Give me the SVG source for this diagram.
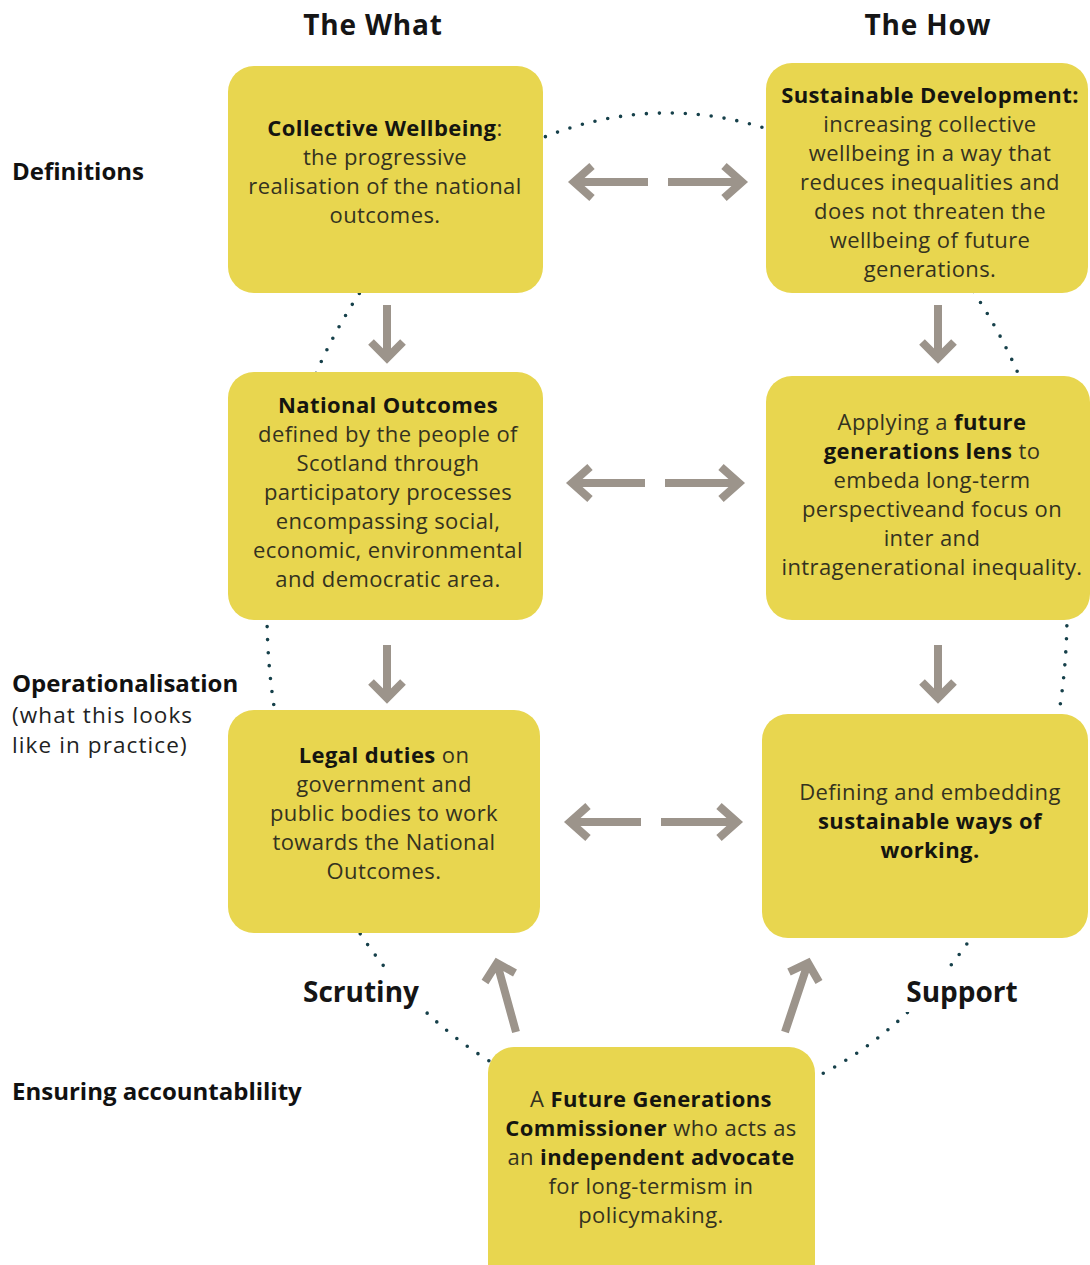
<svg xmlns="http://www.w3.org/2000/svg" width="1090" height="1265" viewBox="0 0 1090 1265">
<style>
.box{fill:#E8D64F}
.arr{fill:none;stroke:#9C948B;stroke-width:8;stroke-linejoin:miter;stroke-linecap:butt}
.dots{fill:none;stroke:#16404A;stroke-width:3.6;stroke-linecap:round;stroke-dasharray:0 13}
.t{font-family:"Open Sans","Liberation Sans",sans-serif;font-size:22px;fill:#34321f;text-anchor:middle;letter-spacing:0.4px}
.b{font-weight:700;fill:#151510}
.title{font-family:"Open Sans","Liberation Sans",sans-serif;font-size:28px;font-weight:700;fill:#151515;text-anchor:middle;letter-spacing:0.8px}
.lab{font-family:"Open Sans","Liberation Sans",sans-serif;font-size:22.5px;fill:#222;letter-spacing:1.1px}
.labb{font-size:24px;font-weight:700;fill:#111;letter-spacing:0px}
.side{font-family:"Open Sans","Liberation Sans",sans-serif;font-size:28px;font-weight:700;fill:#151515;text-anchor:middle}
</style>
<rect width="1090" height="1265" fill="#fff"/>
<g id="connectors">
<ellipse class="dots" cx="667" cy="613" rx="400" ry="500"/>
<path class="arr" d="M648 182H574M592 166L574 182L592 198"/>
<path class="arr" d="M668 182H742M724 166L742 182L724 198"/>
<path class="arr" d="M645 483H572M590 467L572 483L590 499"/>
<path class="arr" d="M665 483H739M721 467L739 483L721 499"/>
<path class="arr" d="M641 822H570M588 806L570 822L588 838"/>
<path class="arr" d="M661 822H737M719 806L737 822L719 838"/>
<path class="arr" d="M387 305V358M371 342L387 358L403 342"/>
<path class="arr" d="M938 305V358M922 342L938 358L954 342"/>
<path class="arr" d="M387 645V698M371 682L387 698L403 682"/>
<path class="arr" d="M938 645V698M922 682L938 698L954 682"/>
<path class="arr" d="M516 1032L497 963M515 973L497 963L485 982"/>
<path class="arr" d="M785 1032L808 963M789 972L808 963L819 982"/>
</g>
<g id="labels">
<text class="title" x="373" y="35">The What</text>
<text class="title" x="928" y="35">The How</text>
<text class="lab labb" x="12" y="180">Definitions</text>
<text class="lab labb" x="12" y="692">Operationalisation</text>
<text class="lab" x="12" y="723">(what this looks</text>
<text class="lab" x="12" y="753">like in practice)</text>
<text class="lab labb" x="12" y="1100">Ensuring accountablility</text>
<rect x="296" y="972" width="130" height="40" fill="#fff"/>
<text class="side" x="361" y="1002">Scrutiny</text>
<rect x="899" y="972" width="126" height="40" fill="#fff"/>
<text class="side" x="962" y="1002">Support</text>
</g>
<g id="n1">
<rect class="box" x="228" y="66" width="315" height="227" rx="26"/>
<text class="t" x="385"><tspan x="385" y="136"><tspan class="b">Collective Wellbeing</tspan>:</tspan><tspan x="385" y="165">the progressive</tspan><tspan x="385" y="194">realisation of the national</tspan><tspan x="385" y="223">outcomes.</tspan></text>
</g>
<g id="n2">
<rect class="box" x="766" y="63" width="322" height="230" rx="26"/>
<text class="t" x="930"><tspan x="930" y="103" class="b">Sustainable Development:</tspan><tspan x="930" y="132">increasing collective</tspan><tspan x="930" y="161">wellbeing in a way that</tspan><tspan x="930" y="190">reduces inequalities and</tspan><tspan x="930" y="219">does not threaten the</tspan><tspan x="930" y="248">wellbeing of future</tspan><tspan x="930" y="277">generations.</tspan></text>
</g>
<g id="n3">
<rect class="box" x="228" y="372" width="315" height="248" rx="26"/>
<text class="t" x="388"><tspan x="388" y="413" class="b">National Outcomes</tspan><tspan x="388" y="442">defined by the people of</tspan><tspan x="388" y="471">Scotland through</tspan><tspan x="388" y="500">participatory processes</tspan><tspan x="388" y="529">encompassing social,</tspan><tspan x="388" y="558">economic, environmental</tspan><tspan x="388" y="587">and democratic area.</tspan></text>
</g>
<g id="n4">
<rect class="box" x="766" y="376" width="324" height="244" rx="26"/>
<text class="t" x="932"><tspan x="932" y="430">Applying a <tspan class="b">future</tspan></tspan><tspan x="932" y="459"><tspan class="b">generations lens</tspan> to</tspan><tspan x="932" y="488">embeda long-term</tspan><tspan x="932" y="517">perspectiveand focus on</tspan><tspan x="932" y="546">inter and</tspan><tspan x="932" y="575">intragenerational inequality.</tspan></text>
</g>
<g id="n5">
<rect class="box" x="228" y="710" width="312" height="223" rx="26"/>
<text class="t" x="384"><tspan x="384" y="763"><tspan class="b">Legal duties</tspan> on</tspan><tspan x="384" y="792">government and</tspan><tspan x="384" y="821">public bodies to work</tspan><tspan x="384" y="850">towards the National</tspan><tspan x="384" y="879">Outcomes.</tspan></text>
</g>
<g id="n6">
<rect class="box" x="762" y="714" width="326" height="224" rx="26"/>
<text class="t" x="930"><tspan x="930" y="800">Defining and embedding</tspan><tspan x="930" y="829" class="b">sustainable ways of</tspan><tspan x="930" y="858" class="b">working.</tspan></text>
</g>
<g id="n7">
<rect class="box" x="488" y="1047" width="327" height="250" rx="26"/>
<text class="t" x="651"><tspan x="651" y="1107">A <tspan class="b">Future Generations</tspan></tspan><tspan x="651" y="1136"><tspan class="b">Commissioner</tspan> who acts as</tspan><tspan x="651" y="1165">an <tspan class="b">independent advocate</tspan></tspan><tspan x="651" y="1194">for long-termism in</tspan><tspan x="651" y="1223">policymaking.</tspan></text>
</g>
</svg>
